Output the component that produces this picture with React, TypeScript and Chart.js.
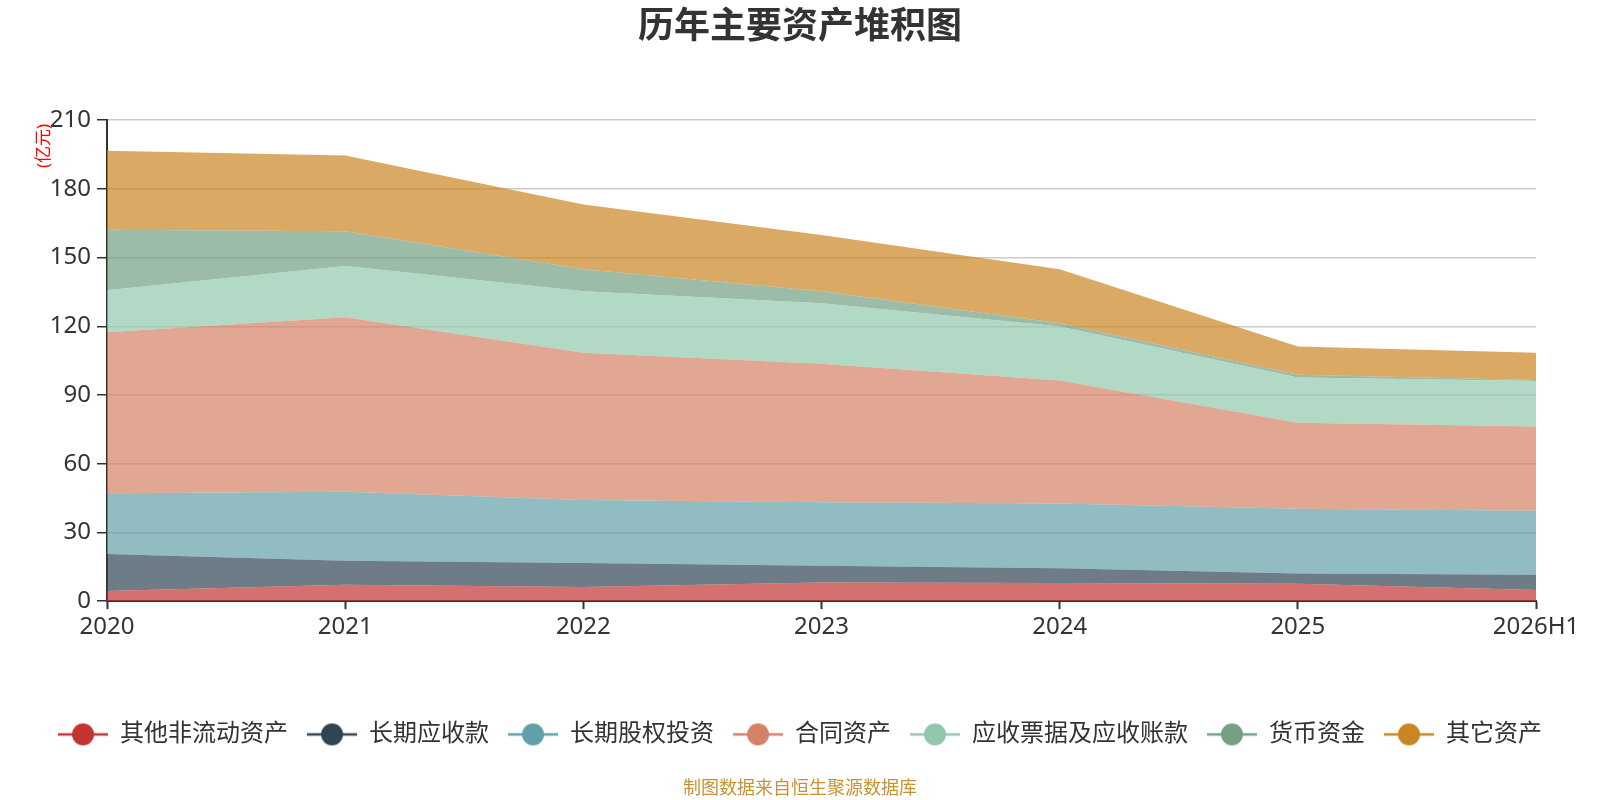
import { useEffect, useRef } from "react";
import { Chart, registerables } from "chart.js";

Chart.register(...registerables);

const categories = ["2020", "2021", "2022", "2023", "2024", "2025", "2026H1"];

const otherNonCurrent = [4.4, 7.1, 6.2, 8.1, 7.9, 7.6, 4.8];
const longTermReceivables = [16.2, 10.5, 10.4, 7.3, 6.4, 4.5, 6.7];
const longTermEquity = [26.5, 30.2, 27.5, 27.8, 28.3, 28.2, 28.0];
const contractAssets = [70.3, 76.2, 64.3, 60.5, 53.7, 37.6, 36.7];
const receivables = [18.3, 22.3, 26.9, 26.4, 23.6, 19.7, 19.9];
const cash = [26.5, 15.2, 9.6, 5.2, 1.4, 1.2, 0.5];
const otherAssets = [34.5, 33.1, 28.3, 24.6, 23.6, 12.4, 11.8];

const seriesNames = [
  "其他非流动资产",
  "长期应收款",
  "长期股权投资",
  "合同资产",
  "应收票据及应收账款",
  "货币资金",
  "其它资产",
];
const seriesData = [
  otherNonCurrent,
  longTermReceivables,
  longTermEquity,
  contractAssets,
  receivables,
  cash,
  otherAssets,
];
const seriesColors = ["#c23531", "#2f4554", "#61a0a8", "#d48265", "#91c7ae", "#749f83", "#ca8622"];

const FONT = '"Noto Sans", "Noto Sans CJK SC", sans-serif';

function hexToRgba(hex: string, a: number) {
  const n = parseInt(hex.slice(1), 16);
  return `rgba(${(n >> 16) & 255}, ${(n >> 8) & 255}, ${n & 255}, ${a})`;
}

// legend marker: line with a dot in the middle
function makeMarker(color: string) {
  const c = document.createElement("canvas");
  c.width = 50;
  c.height = 24;
  const ctx = c.getContext("2d")!;
  ctx.strokeStyle = color;
  ctx.lineWidth = 2.5;
  ctx.beginPath();
  ctx.moveTo(0, 12);
  ctx.lineTo(50, 12);
  ctx.stroke();
  ctx.fillStyle = color;
  ctx.beginPath();
  ctx.arc(25, 12, 11, 0, Math.PI * 2);
  ctx.fill();
  return c;
}

const unitLabel = {
  id: "unitLabel",
  afterDraw(chart: Chart) {
    const ctx = chart.ctx;
    ctx.save();
    ctx.translate(44, 146);
    ctx.rotate(-Math.PI / 2);
    ctx.fillStyle = "#ff0000";
    ctx.font = `17px ${FONT}`;
    ctx.textAlign = "center";
    ctx.textBaseline = "middle";
    ctx.fillText("(亿元)", 0, 0);
    ctx.restore();
  },
};

export default function App() {
  const chartRef = useRef<HTMLCanvasElement | null>(null);

  useEffect(() => {
    if (!chartRef.current) return;
    const markers = seriesColors.map((c) => makeMarker(c));
    const myChart = new Chart(chartRef.current, {
      type: "line",
      data: {
        labels: categories,
        datasets: seriesData.map((d, i) => ({
          label: seriesNames[i],
          data: d,
          borderColor: seriesColors[i],
          backgroundColor: hexToRgba(seriesColors[i], 0.7),
          borderWidth: 0,
          pointRadius: 0,
          pointStyle: markers[i],
          fill: i === 0 ? "origin" : "-1",
          tension: 0,
        })),
      },
      options: {
        animation: false,
        responsive: true,
        maintainAspectRatio: false,
        layout: { padding: 0 },
        plugins: {
          title: {
            display: true,
            text: "历年主要资产堆积图",
            color: "#333",
            font: { family: FONT, size: 36, weight: "bold" },
            padding: { top: 6, bottom: 71 },
          },
          subtitle: {
            display: true,
            position: "bottom",
            text: "制图数据来自恒生聚源数据库",
            color: "#c89234",
            font: { family: FONT, size: 18 },
            padding: { top: 22, bottom: 0 },
          },
          legend: {
            position: "bottom",
            labels: {
              usePointStyle: true,
              pointStyleWidth: 50,
              padding: 19,
              color: "#333",
              font: { family: FONT, size: 24 },
            },
          },
          tooltip: { enabled: false },
        },
        scales: {
          x: {
            grid: {
              drawOnChartArea: false,
              drawTicks: true,
              tickLength: 8,
              tickColor: "#333",
              tickWidth: 2,
            },
            border: { display: true, color: "#333", width: 2 },
            ticks: {
              color: "#333",
              font: { family: FONT, size: 24 },
              padding: 4,
              maxRotation: 0,
              autoSkip: false,
            },
            afterFit(scale: any) {
              scale.height = 102.3;
            },
          },
          y: {
            stacked: true,
            min: 0,
            max: 210,
            grid: {
              color: "#cccccc",
              lineWidth: 1.5,
              tickLength: 10,
              tickColor: "#333",
              tickWidth: 1.5,
            },
            border: { display: true, color: "#333", width: 2 },
            ticks: {
              stepSize: 30,
              color: "#333",
              font: { family: FONT, size: 24 },
              padding: 6,
            },
            afterFit(scale: any) {
              scale.width = 107;
            },
          },
          // empty right-hand axis that only reserves the right margin
          yRight: {
            position: "right",
            display: true,
            grid: { display: false, drawTicks: false },
            border: { display: false },
            ticks: { display: false },
            afterFit(scale: any) {
              scale.width = 64;
            },
          },
        },
      },
      plugins: [unitLabel],
    });
    return () => {
      myChart.destroy();
    };
  }, []);

  return (
    <div style={{ position: "absolute", left: 0, top: 0, width: 1600, height: 800, background: "#fff" }}>
      <canvas ref={chartRef} />
    </div>
  );
}
